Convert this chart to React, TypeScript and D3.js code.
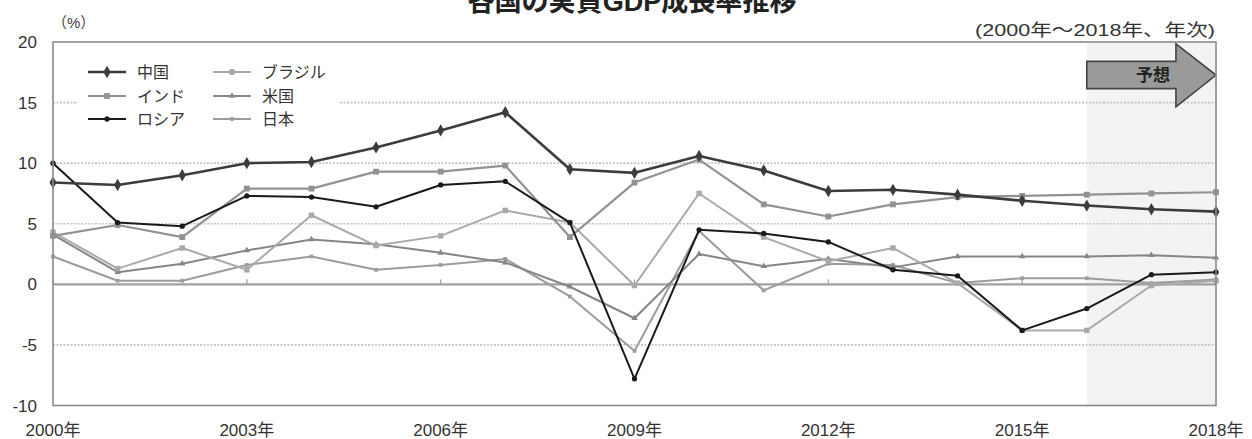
import React from "react";
import * as d3 from "d3";

// Real GDP growth (%), 2000–2018 (2016 onward are projections)
const years = [2000, 2001, 2002, 2003, 2004, 2005, 2006, 2007, 2008, 2009, 2010, 2011, 2012, 2013, 2014, 2015, 2016, 2017, 2018];
const china = [8.4, 8.2, 9.0, 10.0, 10.1, 11.3, 12.7, 14.2, 9.5, 9.2, 10.6, 9.4, 7.7, 7.8, 7.4, 6.9, 6.5, 6.2, 6.0];
const india = [4.0, 4.9, 3.9, 7.9, 7.9, 9.3, 9.3, 9.8, 3.9, 8.4, 10.3, 6.6, 5.6, 6.6, 7.2, 7.3, 7.4, 7.5, 7.6];
const russia = [10.0, 5.1, 4.8, 7.3, 7.2, 6.4, 8.2, 8.5, 5.1, -7.8, 4.5, 4.2, 3.5, 1.2, 0.7, -3.8, -2.0, 0.8, 1.0];
const brazil = [4.3, 1.3, 3.0, 1.2, 5.7, 3.2, 4.0, 6.1, 5.1, -0.1, 7.5, 3.9, 1.9, 3.0, 0.1, -3.8, -3.8, -0.1, 0.3];
const usa = [4.1, 1.0, 1.7, 2.8, 3.7, 3.3, 2.6, 1.8, -0.2, -2.8, 2.5, 1.5, 2.1, 1.4, 2.3, 2.3, 2.3, 2.4, 2.2];
const japan = [2.3, 0.3, 0.3, 1.6, 2.3, 1.2, 1.6, 2.1, -1.0, -5.5, 4.4, -0.5, 1.7, 1.6, 0.1, 0.5, 0.5, 0.1, 0.4];

const yTicks = [20, 15, 10, 5, 0, -5, -10];
const gridValues = [15, 10, 5, -5];
const xLabelYears = [2000, 2003, 2006, 2009, 2012, 2015, 2018];
const forecastStart = 2016;

const W = 1252;
const H = 439;
const FONT = "'Liberation Sans', 'Noto Sans CJK JP', sans-serif";

type SeriesDef = {
  name: string;
  values: number[];
  color: string;
  width: number;
  symbol: d3.SymbolType;
  size: number;
};

const series: SeriesDef[] = [
  { name: "日本", values: japan, color: "#9c9c9c", width: 2, symbol: d3.symbolSquare, size: 14 },
  { name: "米国", values: usa, color: "#868686", width: 2, symbol: d3.symbolTriangle, size: 18 },
  { name: "ブラジル", values: brazil, color: "#a9a9a9", width: 2, symbol: d3.symbolSquare, size: 30 },
  { name: "インド", values: india, color: "#929292", width: 2.2, symbol: d3.symbolSquare, size: 34 },
  { name: "ロシア", values: russia, color: "#1a1a1a", width: 2, symbol: d3.symbolCircle, size: 22 },
  { name: "中国", values: china, color: "#3c3c3c", width: 2.6, symbol: d3.symbolDiamond, size: 44 },
];

// legend layout: two columns, three rows
const legendOrder = [
  ["中国", "インド", "ロシア"],
  ["ブラジル", "米国", "日本"],
];

export default function App() {
  const x = d3.scaleLinear().domain([2000, 2018]).range([53, 1216]);
  const y = d3.scaleLinear().domain([-10, 20]).range([405.5, 42]);
  const line = d3
    .line<number>()
    .x((_, i) => x(years[i]))
    .y((v) => y(v));

  const byName = new Map(series.map((s) => [s.name, s]));
  const legendX = [88, 213];
  const legendY = [72, 96, 119];

  // forecast arrow geometry
  const ax0 = x(forecastStart);
  const ax1 = x(2017.38);
  const ax2 = x(2018);
  const bodyTop = y(18.4);
  const bodyBot = y(16.15);
  const headTop = y(19.85);
  const headBot = y(14.65);
  const mid = (bodyTop + bodyBot) / 2;

  return (
    <svg
      width={W}
      height={H}
      style={{ position: "absolute", left: 0, top: 0, background: "#fff" }}
      fontFamily={FONT}
    >
      <rect x={0} y={0} width={W} height={H} fill="#fff" />

      {/* title */}
      <text x={632} y={11} textAnchor="middle" fontSize={28} fontWeight="bold" fill="#222" textLength={329} lengthAdjust="spacingAndGlyphs">
        各国の実質GDP成長率推移
      </text>

      {/* forecast shading */}
      <rect x={x(forecastStart)} y={y(20)} width={x(2018) - x(forecastStart)} height={y(-10) - y(20)} fill="#f3f3f3" />

      {/* dotted gridlines */}
      {gridValues.map((v) => (
        <line key={v} x1={x(2000)} x2={x(2018)} y1={y(v)} y2={y(v)} stroke="#c4c4c4" strokeWidth={1.6} strokeDasharray="2,1.5" />
      ))}

      {/* zero line and year ticks */}
      <line x1={x(2000)} x2={x(2018)} y1={y(0)} y2={y(0)} stroke="#a0a0a0" strokeWidth={2.2} />
      {xLabelYears.map((yr) => (
        <line key={yr} x1={x(yr)} x2={x(yr)} y1={y(0)} y2={y(0) - 5} stroke="#a0a0a0" strokeWidth={1.2} />
      ))}

      {/* legend background */}
      <rect x={78} y={56} width={262} height={74} fill="#fff" />

      {/* forecast arrow */}
      <path
        d={`M${ax0},${bodyTop} L${ax1},${bodyTop} L${ax1},${headTop} L${ax2},${mid} L${ax1},${headBot} L${ax1},${bodyBot} L${ax0},${bodyBot} Z`}
        fill="#9a9a9a"
        stroke="#444"
        strokeWidth={1.6}
      />
      <text x={1170} y={mid + 6} textAnchor="end" fontSize={17} fontWeight="bold" fill="#222">
        予想
      </text>

      {/* series */}
      {series.map((s) => (
        <g key={s.name}>
          <path d={line(s.values) || ""} fill="none" stroke={s.color} strokeWidth={s.width} strokeLinejoin="round" />
          {s.values.map((v, i) => (
            <path
              key={i}
              transform={`translate(${x(years[i])},${y(v)})`}
              d={d3.symbol().type(s.symbol).size(s.size)() || ""}
              fill={s.color}
            />
          ))}
        </g>
      ))}

      {/* plot frame */}
      <rect x={x(2000)} y={y(20)} width={x(2018) - x(2000)} height={y(-10) - y(20)} fill="none" stroke="#8a8a8a" strokeWidth={1.6} />

      {/* y-axis labels */}
      {yTicks.map((v) => (
        <text key={v} x={37} y={y(v) + 6} textAnchor="end" fontSize={17} fill="#333">
          {v}
        </text>
      ))}
      <text x={52} y={28} fontSize={15} fill="#444">
        （%）
      </text>

      {/* x-axis labels */}
      {xLabelYears.map((yr) => (
        <text key={yr} x={x(yr)} y={436} textAnchor="middle" fontSize={17} fill="#333">
          {`${yr}年`}
        </text>
      ))}

      <text x={1215} y={36} textAnchor="end" fontSize={17} fill="#333" textLength={240} lengthAdjust="spacingAndGlyphs">
        (2000年～2018年、年次)
      </text>

      {/* legend */}
      {legendOrder.map((col, ci) =>
        col.map((name, ri) => {
          const s = byName.get(name)!;
          const lx = legendX[ci];
          const ly = legendY[ri];
          return (
            <g key={name}>
              <line x1={lx} x2={lx + 38} y1={ly} y2={ly} stroke={s.color} strokeWidth={s.width} />
              <path
                transform={`translate(${lx + 19},${ly})`}
                d={d3.symbol().type(s.symbol).size(s.size)() || ""}
                fill={s.color}
              />
              <text x={lx + 49} y={ly + 6} fontSize={16} fill="#333">
                {name}
              </text>
            </g>
          );
        })
      )}
    </svg>
  );
}
